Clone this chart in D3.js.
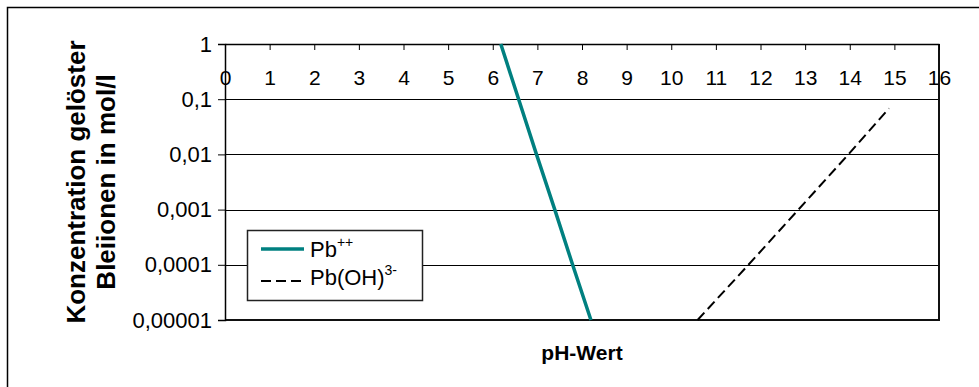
<!DOCTYPE html>
<html>
<head>
<meta charset="utf-8">
<script src="https://cdn.jsdelivr.net/npm/d3@7"></script>
<style>
  body { margin: 0; background: #fff; }
  svg { font-family: "Liberation Sans", Arial, sans-serif; }
</style>
</head>
<body>
<svg width="979" height="387"></svg>
<script>
// pH values and concentrations
var pbPH = [6.18, 6.58, 6.98, 7.39, 7.79, 8.2];
var pbConc = [1, 0.1, 0.01, 0.001, 0.0001, 0.00001];
var hydPH = [10.59, 11.73, 12.85, 13.97, 14.88];
var hydConc = [0.00001, 0.0001, 0.001, 0.01, 0.068];
var xTicks = d3.range(0, 17);
var yTicks = [1, 0.1, 0.01, 0.001, 0.0001, 0.00001];
var yLabels = ["1", "0,1", "0,01", "0,001", "0,0001", "0,00001"];

var svg = d3.select("svg"),
    pLeft = 225, pTop = 44, pRight = 939, pBottom = 320;

var x = d3.scaleLinear().domain([0, 16]).range([pLeft, pRight]);
var y = d3.scaleLog().domain([0.00001, 1]).range([pBottom, pTop]);

// outer frame (only top and left visible)
svg.append("path")
   .attr("d", "M7.5,387V7.5H979")
   .attr("fill", "none")
   .attr("stroke", "#000")
   .attr("stroke-width", 1.5);

// grid lines
svg.append("g")
   .selectAll("line")
   .data(yTicks.slice(1, 5))
   .enter().append("line")
   .attr("x1", pLeft).attr("x2", pRight)
   .attr("y1", function(d) { return Math.round(y(d)) + 0.5; })
   .attr("y2", function(d) { return Math.round(y(d)) + 0.5; })
   .attr("stroke", "#000")
   .attr("stroke-width", 1);

// plot border right + bottom
svg.append("path")
   .attr("d", "M" + pRight + "," + pTop + "V" + pBottom + "H" + pLeft)
   .attr("fill", "none")
   .attr("stroke", "#111")
   .attr("stroke-width", 2);

// y axis
var yAxis = svg.append("g")
   .attr("transform", "translate(" + pLeft + ",0)")
   .call(d3.axisLeft(y).tickValues(yTicks).tickSize(7).tickPadding(6)
      .tickFormat(function(d, i) { return yLabels[i]; }));
yAxis.select(".domain").attr("stroke-width", 1.5);
yAxis.selectAll("text").attr("font-size", "22px").attr("fill", "#000")
     .attr("font-family", "Liberation Sans, Arial, sans-serif");

// x axis on top, ticks pointing into the plot, labels below the line
var xAxis = svg.append("g")
   .attr("transform", "translate(0," + pTop + ")")
   .call(d3.axisBottom(x).tickValues(xTicks).tickSize(6).tickPadding(20)
      .tickSizeOuter(0));
xAxis.select(".domain").attr("stroke-width", 1.5);
xAxis.selectAll("text").attr("font-size", "21px").attr("fill", "#000")
     .attr("font-family", "Liberation Sans, Arial, sans-serif");

var line = d3.line()
   .x(function(d) { return x(d[0]); })
   .y(function(d) { return y(d[1]); });

svg.append("path")
   .datum(d3.zip(pbPH, pbConc))
   .attr("d", line)
   .attr("fill", "none")
   .attr("stroke", "#008080")
   .attr("stroke-width", 3.5);

svg.append("path")
   .datum(d3.zip(hydPH, hydConc))
   .attr("d", line)
   .attr("fill", "none")
   .attr("stroke", "#000")
   .attr("stroke-width", 2)
   .attr("stroke-dasharray", "10,5");

// axis titles
svg.append("text")
   .attr("transform", "translate(" + ((pLeft + pRight) / 2) + ",360)")
   .attr("text-anchor", "middle")
   .attr("font-size", "21px")
   .attr("font-weight", "bold")
   .text("pH-Wert");

var yt = svg.append("text")
   .attr("transform", "translate(85," + ((pTop + pBottom) / 2) + ") rotate(-90)")
   .attr("text-anchor", "middle")
   .attr("font-size", "26px")
   .attr("font-weight", "bold");
yt.append("tspan").attr("x", 0).attr("y", 0).text("Konzentration gelöster");
yt.append("tspan").attr("x", 0).attr("y", 30).text("Bleiionen in mol/l");

// legend
var lg = svg.append("g").attr("transform", "translate(247,230)");
lg.append("rect")
  .attr("x", 0.5).attr("y", 0.5)
  .attr("width", 175).attr("height", 70)
  .attr("fill", "#fff")
  .attr("stroke", "#222")
  .attr("stroke-width", 1.5);
lg.append("line")
  .attr("x1", 14).attr("x2", 57).attr("y1", 19).attr("y2", 19)
  .attr("stroke", "#008080").attr("stroke-width", 3.5);
lg.append("line")
  .attr("x1", 14).attr("x2", 57).attr("y1", 51).attr("y2", 51)
  .attr("stroke", "#000").attr("stroke-width", 2)
  .attr("stroke-dasharray", "10,5");
var t1 = lg.append("text").attr("x", 63).attr("y", 27).attr("font-size", "22px");
t1.append("tspan").text("Pb");
t1.append("tspan").attr("dy", -10).attr("font-size", "14px").text("++");
var t2 = lg.append("text").attr("x", 63).attr("y", 55).attr("font-size", "22px");
t2.append("tspan").text("Pb(OH)");
t2.append("tspan").attr("dy", -10).attr("font-size", "14px").text("3-");
</script>
</body>
</html>
